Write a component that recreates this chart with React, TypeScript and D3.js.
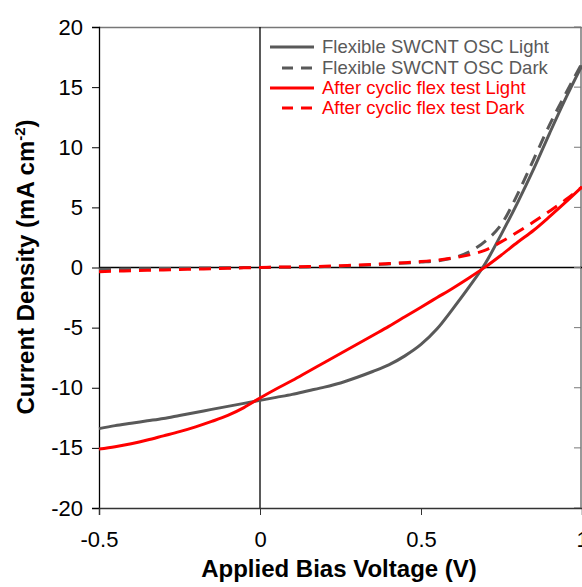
import React, { useEffect, useRef } from 'react';
import * as d3 from 'd3';

// Applied bias (V)
const voltage = [
  -0.5, -0.45, -0.4, -0.35, -0.3, -0.25, -0.2, -0.15, -0.1, -0.05,
  0, 0.05, 0.1, 0.15, 0.2, 0.25, 0.3, 0.35, 0.4, 0.45,
  0.5, 0.55, 0.6, 0.65, 0.7, 0.75, 0.8, 0.85, 0.9, 0.95, 1.0,
];

// Current density (mA cm^-2)
const swcntLight = [
  -13.4, -13.15, -12.95, -12.75, -12.55, -12.3, -12.05, -11.8, -11.55, -11.3,
  -11.05, -10.8, -10.55, -10.25, -9.95, -9.6, -9.15, -8.65, -8.1, -7.35,
  -6.4, -5.1, -3.4, -1.6, 0.35, 2.8, 5.4, 8.2, 11.2, 14.1, 16.8,
];
const swcntDark = [
  -0.15, -0.14, -0.12, -0.1, -0.08, -0.07, -0.05, -0.04, -0.02, -0.01,
  0, 0.02, 0.03, 0.05, 0.08, 0.11, 0.15, 0.22, 0.3, 0.37,
  0.45, 0.55, 0.8, 1.3, 2.2, 3.6, 6.1, 9.0, 11.9, 14.5, 17.0,
];
const flexLight = [
  -15.1, -14.9, -14.65, -14.35, -14.0, -13.65, -13.25, -12.8, -12.3, -11.65,
  -10.85, -10.1, -9.4, -8.65, -7.9, -7.15, -6.4, -5.65, -4.9, -4.1,
  -3.3, -2.5, -1.7, -0.85, 0.05, 1.05, 2.1, 3.1, 4.25, 5.45, 6.7,
];
const flexDark = [
  -0.35, -0.3, -0.27, -0.23, -0.2, -0.17, -0.13, -0.1, -0.06, -0.03,
  0, 0.03, 0.05, 0.08, 0.1, 0.15, 0.2, 0.26, 0.33, 0.4,
  0.5, 0.6, 0.8, 1.05, 1.45, 2.15, 2.95, 3.8, 4.7, 5.65, 6.7,
];

const seriesNames = [
  'Flexible SWCNT OSC Light',
  'Flexible SWCNT OSC Dark',
  'After cyclic flex test Light',
  'After cyclic flex test Dark',
];
const seriesValues = [swcntLight, swcntDark, flexLight, flexDark];
const seriesColors = ['#595959', '#595959', '#ff0000', '#ff0000'];
const seriesDashed = [false, true, false, true];

const xTicks = [-0.5, 0, 0.5, 1];
const yTicks = [-20, -15, -10, -5, 0, 5, 10, 15, 20];

// plain hyphen for negatives, like the original
const fmt = (d: any) => String(d);

export default function App() {
  const svgRef = useRef<SVGSVGElement>(null);

  useEffect(() => {
    if (!svgRef.current) return;
    const svg = d3.select(svgRef.current);
    svg.selectAll('*').remove();

    const font = '"Liberation Sans", Arial, sans-serif';
    const left = 99, right = 582, top = 27, bottom = 508;

    const x = d3.scaleLinear().domain([-0.5, 1]).range([left, right]);
    const y = d3.scaleLinear().domain([-20, 20]).range([bottom, top]);

    // frame
    svg.append('line').attr('x1', left).attr('x2', right).attr('y1', top + 0.5).attr('y2', top + 0.5)
      .attr('stroke', '#777').attr('stroke-width', 1.5);
    svg.append('line').attr('x1', right - 1).attr('x2', right - 1).attr('y1', top).attr('y2', bottom)
      .attr('stroke', '#777').attr('stroke-width', 1.5);

    // zero lines
    svg.append('line').attr('x1', left).attr('x2', right).attr('y1', y(0)).attr('y2', y(0))
      .attr('stroke', '#000').attr('stroke-width', 1.3);
    svg.append('line').attr('x1', x(0)).attr('x2', x(0)).attr('y1', top).attr('y2', bottom)
      .attr('stroke', '#000').attr('stroke-width', 1.3);

    // right inward ticks
    yTicks.forEach(t => {
      svg.append('line').attr('x1', right - 8).attr('x2', right - 1).attr('y1', y(t)).attr('y2', y(t))
        .attr('stroke', '#777').attr('stroke-width', 1);
    });

    // left axis
    const yAxis = svg.append('g').attr('transform', `translate(${left},0)`)
      .call(d3.axisLeft(y).tickValues(yTicks).tickSize(7).tickPadding(9).tickFormat(fmt));
    yAxis.select('.domain').attr('stroke', '#000').attr('stroke-width', 1.3);
    yAxis.selectAll('.tick line').attr('stroke', '#000').attr('stroke-width', 1);
    yAxis.selectAll('text').attr('font-family', font).attr('font-size', 22).attr('fill', '#000');

    // bottom axis
    const xAxis = svg.append('g').attr('transform', `translate(0,${bottom})`)
      .call(d3.axisBottom(x).tickValues(xTicks).tickSize(7).tickPadding(16).tickFormat(fmt));
    xAxis.select('.domain').attr('stroke', '#333').attr('stroke-width', 1.5);
    xAxis.selectAll('.tick line').attr('stroke', '#333').attr('stroke-width', 1);
    xAxis.selectAll('text').attr('font-family', font).attr('font-size', 22).attr('fill', '#000');

    // curves
    const line = d3.line<number>()
      .x((_, i) => x(voltage[i]))
      .y(d => y(d))
      .curve(d3.curveMonotoneX);

    seriesValues.forEach((vals, i) => {
      svg.append('path')
        .datum(vals)
        .attr('fill', 'none')
        .attr('stroke', seriesColors[i])
        .attr('stroke-width', 3)
        .attr('stroke-dasharray', seriesDashed[i] ? '12,8' : null)
        .attr('d', line);
    });

    // legend
    const legY = [47, 68, 88, 108];
    seriesNames.forEach((name, i) => {
      const g = svg.append('g').attr('transform', `translate(0,${legY[i]})`);
      g.append('line')
        .attr('x1', seriesDashed[i] ? 282 : 270).attr('x2', 314)
        .attr('y1', 0).attr('y2', 0)
        .attr('stroke', seriesColors[i]).attr('stroke-width', 3)
        .attr('stroke-dasharray', seriesDashed[i] ? '11,8' : null);
      g.append('text')
        .attr('x', 322).attr('dy', '0.35em')
        .attr('font-family', font).attr('font-size', 18.5)
        .attr('fill', seriesColors[i])
        .text(name);
    });

    // axis titles
    svg.append('text')
      .attr('x', 339).attr('y', 577)
      .attr('text-anchor', 'middle')
      .attr('font-family', font).attr('font-size', 24).attr('font-weight', 'bold')
      .text('Applied Bias Voltage (V)');

    const yt = svg.append('text')
      .attr('transform', `translate(34,267) rotate(-90)`)
      .attr('text-anchor', 'middle')
      .attr('font-family', font).attr('font-size', 24).attr('font-weight', 'bold');
    yt.append('tspan').text('Current Density (mA cm');
    yt.append('tspan').attr('dy', -9).attr('font-size', 15).text('-2');
    yt.append('tspan').attr('dy', 9).text(')');
  }, []);

  return (
    <svg
      ref={svgRef}
      width={582}
      height={587}
      style={{ position: 'absolute', left: 0, top: 0, background: '#fff' }}
    />
  );
}
